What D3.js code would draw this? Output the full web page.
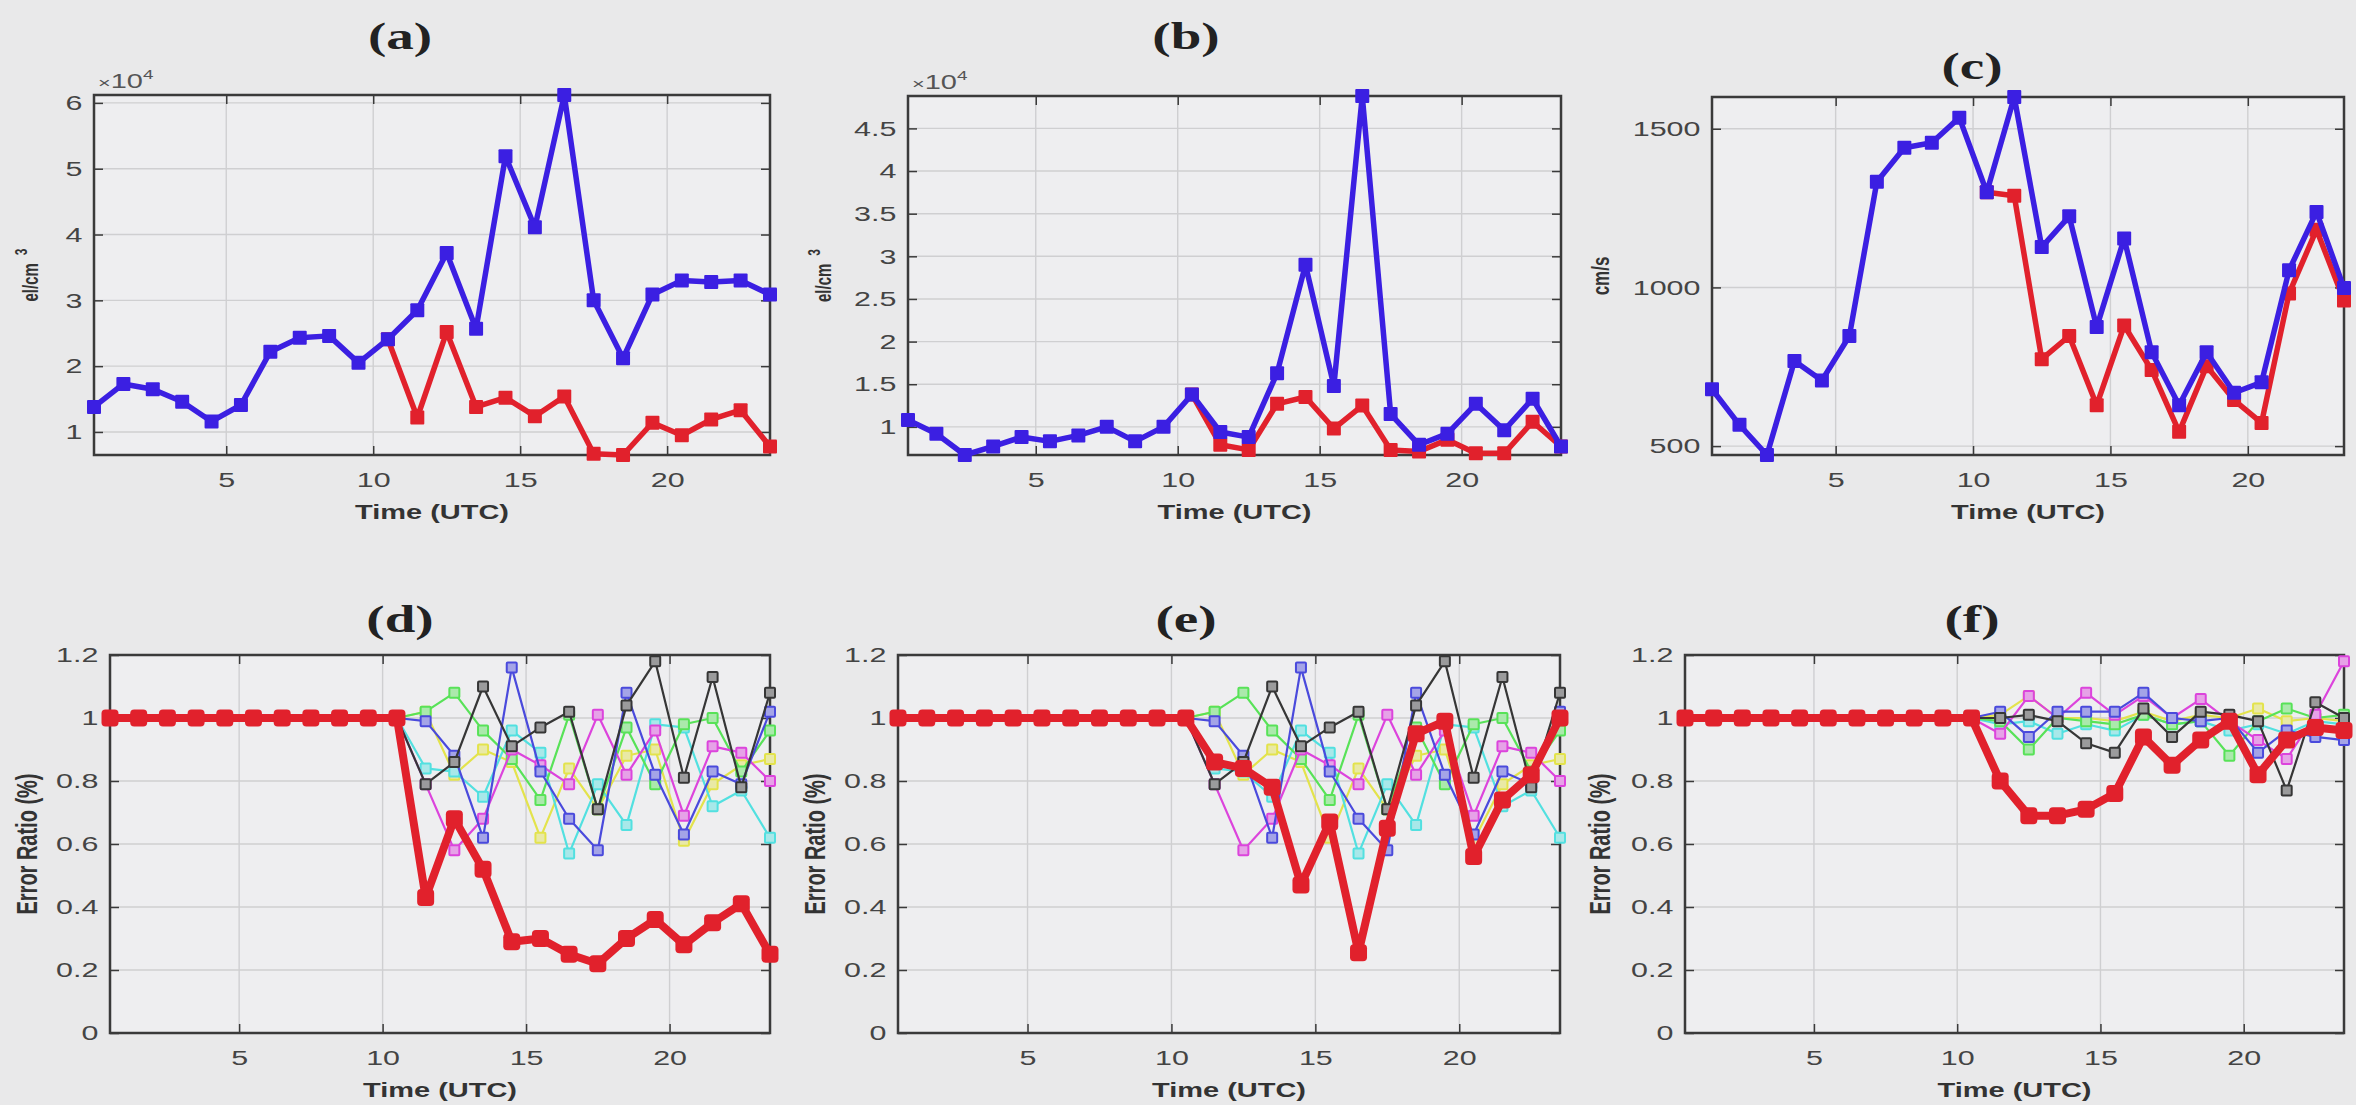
<!DOCTYPE html>
<html>
<head>
<meta charset="utf-8">
<script src="https://cdn.jsdelivr.net/npm/d3@7"></script>
<style>
  body { margin: 0; background: #e9e9ea; }
  svg { display: block; }
</style>
</head>
<body>
<div id="chart"></div>
<script>
/* 2x3 panel figure: densities / speed (top), error ratios (bottom) */

// ---- data ----
const hours = [0.5, 1.5, 2.5, 3.5, 4.5, 5.5, 6.5, 7.5, 8.5, 9.5, 10.5, 11.5,
               12.5, 13.5, 14.5, 15.5, 16.5, 17.5, 18.5, 19.5, 20.5, 21.5, 22.5, 23.5];
const hoursLate = [10.5, 11.5, 12.5, 13.5, 14.5, 15.5, 16.5, 17.5, 18.5, 19.5, 20.5, 21.5, 22.5, 23.5];

const xTicks = [5, 10, 15, 20];
const yTicksA = [10000, 20000, 30000, 40000, 50000, 60000];
const yTicksB = [10000, 15000, 20000, 25000, 30000, 35000, 40000, 45000];
const yTicksC = [500, 1000, 1500];
const yTicksRatio = [0, 0.2, 0.4, 0.6, 0.8, 1, 1.2];

// (a) el/cm^3
const densityA = [13800, 17300, 16500, 14600, 11600, 14100, 22200, 24300, 24600, 20500, 24100, 28500,
                  37200, 25700, 51900, 41100, 61200, 30000, 21200, 30900, 33000, 32800, 33000, 30900];
const densityALate = [24100, 12200, 25200, 13800, 15200, 12400, 15400, 6700, 6500, 11400, 9500, 11900, 13300, 7800];

// (b) el/cm^3
const densityB = [10800, 9200, 6700, 7700, 8800, 8300, 9000, 10000, 8300, 10000, 13800, 9400,
                  8800, 16300, 29000, 14800, 48800, 11500, 7900, 9200, 12700, 9600, 13300, 7700];
const densityBLate = [13800, 7900, 7300, 12700, 13500, 9800, 12500, 7300, 7100, 8500, 6900, 6900, 10600, 7700];

// (c) cm/s
const speedC = [679, 567, 472, 768, 707, 847, 1333, 1440, 1456, 1535, 1300, 1600,
                1127, 1224, 875, 1154, 796, 629, 796, 668, 701, 1054, 1238, 998];
const speedCLate = [1300, 1289, 774, 847, 629, 880, 740, 545, 752, 645, 573, 981, 1182, 959];

// error ratios (thick red)
const ratioD = [1, 1, 1, 1, 1, 1, 1, 1, 1, 1, 1, 0.43, 0.68, 0.52, 0.29, 0.30, 0.25, 0.22, 0.30, 0.36, 0.28, 0.35, 0.41, 0.25];
const ratioE = [1, 1, 1, 1, 1, 1, 1, 1, 1, 1, 1, 0.86, 0.84, 0.78, 0.47, 0.67, 0.255, 0.65, 0.95, 0.99, 0.56, 0.74, 0.82, 1.0];
const ratioF = [1, 1, 1, 1, 1, 1, 1, 1, 1, 1, 1, 0.80, 0.69, 0.69, 0.71, 0.76, 0.94, 0.85, 0.93, 0.99, 0.82, 0.93, 0.97, 0.96];

// ensemble members, panels (d) and (e)
const memberBlack   = [1, 0.79, 0.86, 1.10, 0.91, 0.97, 1.02, 0.71, 1.04, 1.18, 0.81, 1.13, 0.78, 1.08];
const memberBlue    = [1, 0.99, 0.88, 0.62, 1.16, 0.83, 0.68, 0.58, 1.08, 0.82, 0.63, 0.83, 0.79, 1.02];
const memberMagenta = [1, 0.79, 0.58, 0.68, 0.90, 0.85, 0.79, 1.01, 0.82, 0.96, 0.69, 0.91, 0.89, 0.80];
const memberGreen   = [1, 1.02, 1.08, 0.96, 0.87, 0.74, 1.01, 0.71, 0.97, 0.79, 0.98, 1.00, 0.83, 0.96];
const memberCyan    = [1, 0.84, 0.83, 0.75, 0.96, 0.89, 0.57, 0.79, 0.66, 0.98, 0.97, 0.72, 0.77, 0.62];
const memberYellow  = [1, 1.02, 0.82, 0.90, 0.86, 0.62, 0.84, 0.71, 0.88, 0.90, 0.61, 0.79, 0.85, 0.87];

// ensemble members, panel (f)
const memberBlackF   = [1, 1.00, 1.01, 0.99, 0.92, 0.89, 1.03, 0.94, 1.02, 1.01, 0.99, 0.77, 1.05, 1.00];
const memberBlueF    = [1, 1.02, 0.94, 1.02, 1.02, 1.02, 1.08, 1.00, 0.99, 1.00, 0.89, 0.96, 0.94, 0.93];
const memberMagentaF = [1, 0.95, 1.07, 1.00, 1.08, 1.01, 1.07, 1.00, 1.06, 0.99, 0.93, 0.87, 1.01, 1.18];
const memberGreenF   = [1, 0.99, 0.90, 1.00, 0.99, 0.98, 1.01, 0.98, 0.99, 0.88, 0.99, 1.03, 1.00, 1.01];
const memberCyanF    = [1, 0.98, 0.99, 0.95, 0.98, 0.96, 1.01, 0.98, 0.99, 0.96, 0.98, 0.95, 0.99, 0.98];
const memberYellowF  = [1, 1.01, 1.07, 1.00, 1.00, 0.99, 1.02, 0.99, 1.01, 1.00, 1.03, 0.99, 1.00, 0.99];

// ---- styles ----
const width = 2356, height = 1105;
const stretch = 1.45;   // the figure is wider than tall, text looks stretched
const blue = "#3b1fe2", red = "#e1212c";
const sans = "'Liberation Sans', Arial, sans-serif";

const svg = d3.select("#chart")
    .append("svg")
    .attr("width", width)
    .attr("height", height);

const thick = (xs, ys, color) => ({ xs, ys, color, lw: 5.5, ms: 14, fill: color });
const fat = (xs, ys) => ({ xs, ys, color: red, lw: 8, ms: 17, fill: red });
const thin = (ys, color) => ({ xs: hoursLate, ys, color, lw: 2.2, ms: 10, fill: d3.interpolateRgb(color, "#eeeef0")(0.55) });

const membersDE = [thin(memberYellow, "#e3e34c"), thin(memberCyan, "#52e0e0"), thin(memberGreen, "#58e258"),
                   thin(memberMagenta, "#dc44dc"), thin(memberBlue, "#4a4adc"), thin(memberBlack, "#363636")];
const membersF = [thin(memberYellowF, "#e3e34c"), thin(memberCyanF, "#52e0e0"), thin(memberGreenF, "#58e258"),
                  thin(memberMagentaF, "#dc44dc"), thin(memberBlueF, "#4a4adc"), thin(memberBlackF, "#363636")];

const panels = [
  { title: "(a)", titleX: 400, titleY: 36, box: [94, 95, 770, 455], yTicks: yTicksA, fmt: d => d / 1e4, exp: true,
    ylab: "el/cm", sup: "3", ylabX: 30, ylabSize: 15,
    series: [thick(hoursLate, densityALate, red), thick(hours, densityA, blue)] },
  { title: "(b)", titleX: 1186, titleY: 36, box: [908, 96, 1561, 455], yTicks: yTicksB, fmt: d => d / 1e4, exp: true,
    ylab: "el/cm", sup: "3", ylabX: 823, ylabSize: 15,
    series: [thick(hoursLate, densityBLate, red), thick(hours, densityB, blue)] },
  { title: "(c)", titleX: 1972, titleY: 66, box: [1712, 97, 2344, 455], yTicks: yTicksC, fmt: d => d,
    ylab: "cm/s", ylabX: 1600, ylabSize: 17,
    series: [thick(hoursLate, speedCLate, red), thick(hours, speedC, blue)] },
  { title: "(d)", titleX: 400, titleY: 619, box: [110, 655, 770, 1033], yTicks: yTicksRatio, fmt: d => d, domain: [0, 1.2],
    ylab: "Error Ratio (%)", ylabX: 27, ylabSize: 20,
    series: [...membersDE, fat(hours, ratioD)] },
  { title: "(e)", titleX: 1186, titleY: 619, box: [898, 655, 1560, 1033], yTicks: yTicksRatio, fmt: d => d, domain: [0, 1.2],
    ylab: "Error Ratio (%)", ylabX: 815, ylabSize: 20,
    series: [...membersDE, fat(hours, ratioE)] },
  { title: "(f)", titleX: 1972, titleY: 619, box: [1685, 655, 2344, 1033], yTicks: yTicksRatio, fmt: d => d, domain: [0, 1.2],
    ylab: "Error Ratio (%)", ylabX: 1600, ylabSize: 20,
    series: [...membersF, fat(hours, ratioF)] }
];

panels.forEach(drawPanel);

function drawPanel(p) {
  const [x0, y0, x1, y1] = p.box;
  const domain = p.domain || d3.extent(p.series.flatMap(s => s.ys)); // matlab "axis tight"

  let x = d3.scaleLinear().domain([0.5, 23.5]).range([x0, x1]);
  let y = d3.scaleLinear().domain(domain).range([y1, y0]);

  const g = svg.append("g");

  g.append("rect")
    .attr("x", x0).attr("y", y0)
    .attr("width", x1 - x0).attr("height", y1 - y0)
    .attr("fill", "#eeeef0");

  // grid lines
  g.append("g").selectAll("line").data(xTicks).join("line")
    .attr("x1", d => x(d)).attr("x2", d => x(d))
    .attr("y1", y0).attr("y2", y1)
    .attr("stroke", "#cfcfd1").attr("stroke-width", 1.4);
  g.append("g").selectAll("line").data(p.yTicks).join("line")
    .attr("x1", x0).attr("x2", x1)
    .attr("y1", d => y(d)).attr("y2", d => y(d))
    .attr("stroke", "#cfcfd1").attr("stroke-width", 1.4);

  // axes, ticks pointing inward
  const styleAxis = a => {
    a.select(".domain").remove();
    a.selectAll(".tick line").attr("stroke", "#3a3a3a").attr("stroke-width", 1.5);
    a.selectAll(".tick text")
      .attr("fill", "#444")
      .attr("font-family", sans)
      .attr("font-size", 21)
      .attr("transform", `scale(${stretch},1)`);
  };

  g.append("g")
    .attr("transform", `translate(0,${y1})`)
    .call(d3.axisBottom(x).tickValues(xTicks).tickSizeInner(-9).tickSizeOuter(0).tickPadding(17))
    .call(styleAxis);
  g.append("g")
    .attr("transform", `translate(0,${y0})`)
    .call(d3.axisTop(x).tickValues(xTicks).tickSizeInner(-9).tickSizeOuter(0).tickFormat(""))
    .call(styleAxis);
  g.append("g")
    .attr("transform", `translate(${x0},0)`)
    .call(d3.axisLeft(y).tickValues(p.yTicks).tickFormat(p.fmt).tickSizeInner(-9).tickSizeOuter(0).tickPadding(8))
    .call(styleAxis);
  g.append("g")
    .attr("transform", `translate(${x1},0)`)
    .call(d3.axisRight(y).tickValues(p.yTicks).tickSizeInner(-9).tickSizeOuter(0).tickFormat(""))
    .call(styleAxis);

  // box
  g.append("rect")
    .attr("x", x0).attr("y", y0)
    .attr("width", x1 - x0).attr("height", y1 - y0)
    .attr("fill", "none")
    .attr("stroke", "#3a3a3a")
    .attr("stroke-width", 2.5);

  // lines + square markers
  let line = d3.line()
      .x(d => x(d[0]))
      .y(d => y(d[1]));

  p.series.forEach(s => {
    const pts = s.xs.map((h, i) => [h, s.ys[i]]);
    g.append("path")
      .datum(pts)
      .attr("d", line)
      .attr("fill", "none")
      .attr("stroke", s.color)
      .attr("stroke-width", s.lw)
      .attr("stroke-linejoin", "round");
    g.append("g").selectAll("rect").data(pts).join("rect")
      .attr("x", d => x(d[0]) - s.ms / 2)
      .attr("y", d => y(d[1]) - s.ms / 2)
      .attr("width", s.ms).attr("height", s.ms)
      .attr("rx", s.ms > 15 ? 4 : 1)
      .attr("fill", s.fill)
      .attr("stroke", s.color)
      .attr("stroke-width", s.fill === s.color ? 0 : 2);
  });

  // x10^4 multiplier
  if (p.exp) {
    const t = g.append("text")
      .attr("transform", `translate(${x0 + 4},${y0 - 7}) scale(${stretch},1)`)
      .attr("font-family", sans)
      .attr("fill", "#555");
    t.append("tspan").attr("font-size", 15).text("×");
    t.append("tspan").attr("font-size", 20).text("10");
    t.append("tspan").attr("font-size", 13).attr("dy", -9).text("4");
  }

  // panel title
  g.append("text")
    .attr("transform", `translate(${p.titleX},${p.titleY}) scale(${stretch},1)`)
    .attr("text-anchor", "middle")
    .attr("dominant-baseline", "central")
    .attr("font-family", "'Liberation Serif', 'Times New Roman', serif")
    .attr("font-weight", "bold")
    .attr("font-size", 38)
    .attr("fill", "#222")
    .text(p.title);

  // x label
  g.append("text")
    .attr("transform", `translate(${(x0 + x1) / 2},${y1 + 57}) scale(${stretch},1)`)
    .attr("text-anchor", "middle")
    .attr("dominant-baseline", "central")
    .attr("font-family", sans)
    .attr("font-weight", "bold")
    .attr("font-size", 20)
    .attr("fill", "#333")
    .text("Time (UTC)");

  // y label
  const yl = g.append("text")
    .attr("transform", `translate(${p.ylabX},${(y0 + y1) / 2}) scale(${stretch},1) rotate(-90)`)
    .attr("text-anchor", "middle")
    .attr("dominant-baseline", "central")
    .attr("font-family", sans)
    .attr("font-weight", "bold")
    .attr("font-size", p.ylabSize)
    .attr("fill", "#333");
  yl.append("tspan").text(p.ylab);
  if (p.sup) {
    yl.append("tspan").attr("dx", 8).attr("dy", -7).attr("font-size", p.ylabSize - 3).text(p.sup);
  }
}
</script>
</body>
</html>
